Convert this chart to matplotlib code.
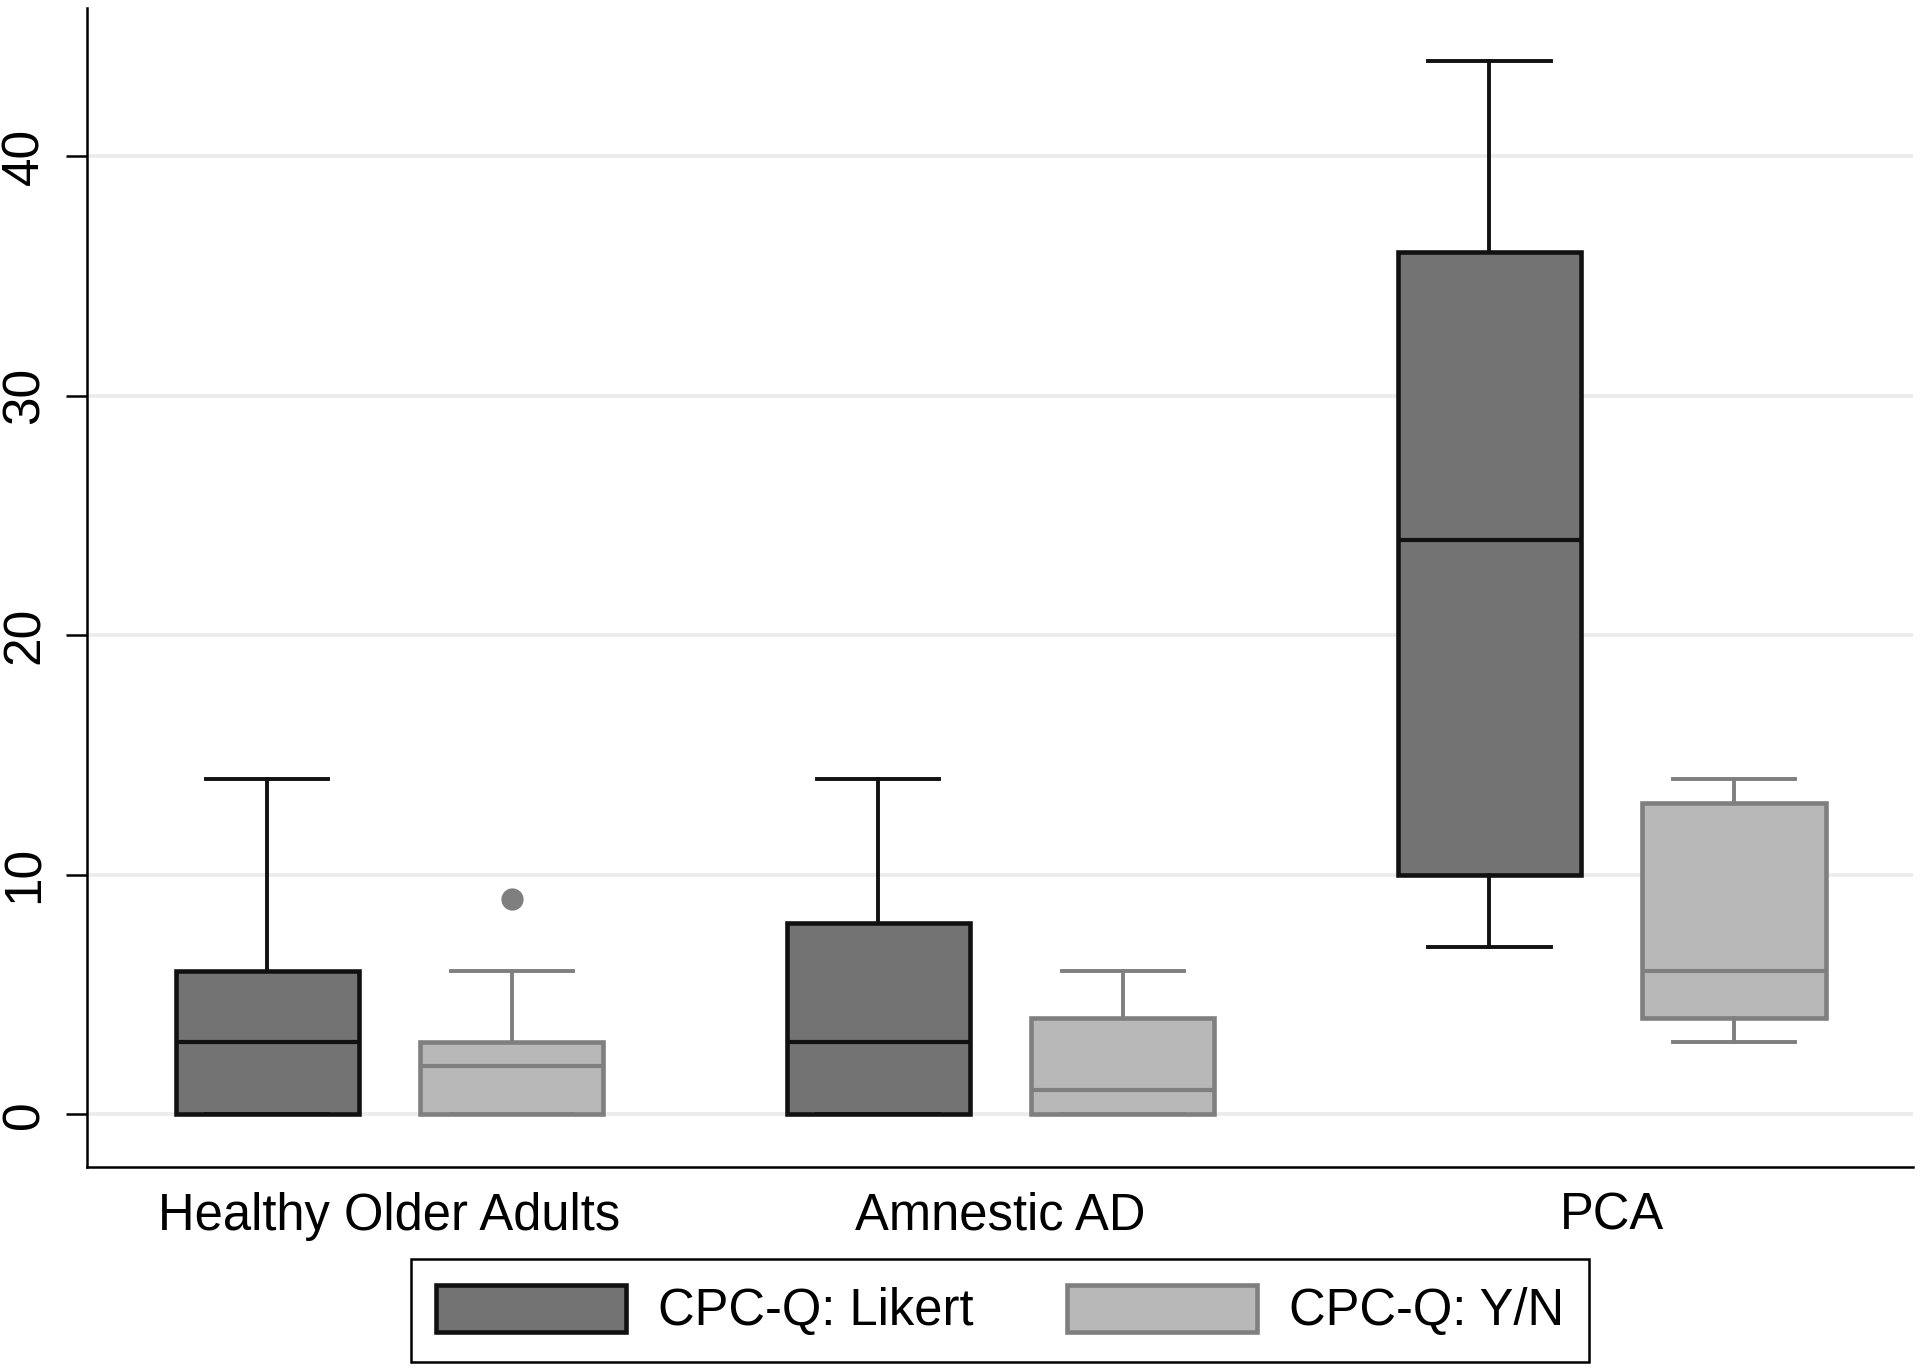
import matplotlib
matplotlib.use("Agg")
import matplotlib.pyplot as plt
from matplotlib.patches import Patch

plt.rcParams['font.family'] = ['Liberation Sans', 'DejaVu Sans']

groups = ["Healthy Older Adults", "Amnestic AD", "PCA"]
series = ["CPC-Q: Likert", "CPC-Q: Y/N"]

# five-number summaries per group
likert_lo = [0, 0, 7]
likert_q1 = [0, 0, 10]
likert_med = [3, 3, 24]
likert_q3 = [6, 8, 36]
likert_hi = [14, 14, 44]
likert_out = [[], [], []]

yn_lo = [0, 0, 3]
yn_q1 = [0, 0, 4]
yn_med = [2, 1, 6]
yn_q3 = [3, 4, 13]
yn_hi = [6, 6, 14]
yn_out = [[9], [], []]

yticks = [0, 10, 20, 30, 40]

dark_fill = "#737373"
dark_edge = "#111111"
light_fill = "#b8b8b8"
light_edge = "#7f7f7f"


def make_stats(lo, q1, med, q3, hi, out):
    stats = []
    for i in range(len(med)):
        stats.append(dict(whislo=lo[i], q1=q1[i], med=med[i], q3=q3[i],
                          whishi=hi[i], fliers=out[i]))
    return stats


fig = plt.figure(figsize=(19.2, 13.7), dpi=100)
ax = fig.add_axes([0.0453, 0.1482, 0.951, 0.846])

for y in yticks:
    ax.axhline(y, color="#ebebeb", lw=2.6, zorder=0)

pos = list(range(len(groups)))
off = 0.2

for stats, shift, fc, ec in [
    (make_stats(likert_lo, likert_q1, likert_med, likert_q3, likert_hi, likert_out), -off, dark_fill, dark_edge),
    (make_stats(yn_lo, yn_q1, yn_med, yn_q3, yn_hi, yn_out), off, light_fill, light_edge),
]:
    ax.bxp(stats, positions=[p + shift for p in pos], widths=0.3,
           patch_artist=True, showfliers=True,
           boxprops=dict(facecolor=fc, edgecolor=ec, linewidth=3.3),
           medianprops=dict(color=ec, linewidth=3),
           whiskerprops=dict(color=ec, linewidth=2.8),
           capprops=dict(color=ec, linewidth=2.8),
           capwidths=0.2,
           flierprops=dict(marker='o', markersize=16, markerfacecolor=light_edge,
                           markeredgecolor='none'),
           zorder=3)

ax.set_xlim(-0.495, 2.493)
ax.set_ylim(-2.2, 46.2)
ax.set_yticks(yticks)
ax.set_yticklabels([str(t) for t in yticks], rotation=90, va='center')
ax.set_xticks(pos)
ax.set_xticklabels(groups)

ax.tick_params(axis='y', length=15, width=1.8, pad=12, labelsize=37)
ax.tick_params(axis='x', length=0, pad=18, labelsize=36.5)

for side in ['top', 'right']:
    ax.spines[side].set_visible(False)
for side in ['left', 'bottom']:
    ax.spines[side].set_linewidth(1.8)

handles = [
    Patch(facecolor=dark_fill, edgecolor=dark_edge, linewidth=3.3, label=series[0]),
    Patch(facecolor=light_fill, edgecolor=light_edge, linewidth=3.3, label=series[1]),
]
leg = fig.legend(handles=handles, loc='lower center', bbox_to_anchor=(0.5208, 0.006),
                 borderaxespad=0,
                 ncol=2, fontsize=36.5, handlelength=3.75, handleheight=1.05,
                 handletextpad=0.62, columnspacing=1.85, borderpad=0.5,
                 fancybox=False, edgecolor='black', framealpha=1)
leg.get_frame().set_linewidth(1.8)

fig.savefig("out.png", dpi=100)
